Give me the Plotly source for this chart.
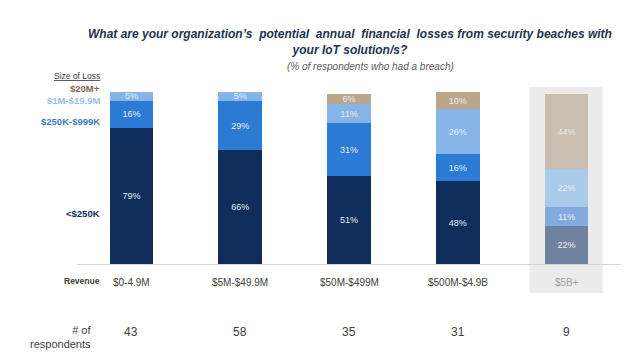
import plotly.graph_objects as go

# ---- data ----
revenue = ["$0-4.9M", "$5M-$49.9M", "$50M-$499M", "$500M-$4.9B", "$5B+"]
respondents = [43, 58, 35, 31, 9]
loss_lt250k = [79, 66, 51, 48, 22]
loss_250k_999k = [16, 29, 31, 16, 11]
loss_1m_19m = [5, 5, 11, 26, 22]
loss_20m_plus = [None, None, 6, 10, 44]
size_labels = ["<$250K", "$250K-$999K", "$1M-$19.9M", "$20M+"]

# ---- layout geometry (pixels) ----
W, H = 640, 361
L, R, T, B = 76.5, 18.5, 92, 97
PW, PH = W - L - R, H - T - B


def px(x):
    return (x - L) / PW


def py(y):
    return (H - B - y) / PH


series = [loss_lt250k, loss_250k_999k, loss_1m_19m, loss_20m_plus]
colors = ["#0F2E5C", "#2B7AD3", "#86B4E6", "#BBA68C"]
faded = ["#6F829E", "#82AADF", "#AACAEA", "#C9BEB0"]
label_colors = ["#0F2E5C", "#3A7CC0", "#9EC0E2", "#7E6A52"]

xs = list(range(len(revenue)))
fig = go.Figure()
for i, (vals, name) in enumerate(zip(series, size_labels)):
    cols = [colors[i]] * (len(xs) - 1) + [faded[i]]
    tcol = ["#E6ECF5"] * (len(xs) - 1) + ["#EDEDED"]
    fig.add_trace(go.Bar(
        x=xs, y=vals, name=name,
        marker=dict(color=cols, line=dict(width=0)),
        text=[f"{v}%" if v is not None else "" for v in vals],
        textposition="inside", insidetextanchor="middle",
        textfont=dict(color=tcol, size=9, family="Liberation Sans"),
        hoverinfo="skip",
    ))

fig.update_layout(
    barmode="stack", bargap=0.6,
    width=W, height=H,
    margin=dict(l=L, r=R, t=T, b=B, pad=0),
    paper_bgcolor="white", plot_bgcolor="rgba(0,0,0,0)",
    showlegend=False,
    uniformtext=dict(minsize=9, mode="show"),
    font=dict(family="Liberation Sans", color="#404040"),
)
fig.update_xaxes(range=[-0.5, len(xs) - 0.5], showticklabels=False, showgrid=False,
                 zeroline=False, showline=True, linecolor="#D3D3D3", linewidth=1,
                 fixedrange=True)
fig.update_yaxes(range=[0, 100], visible=False, fixedrange=True)

# highlight box for last group
fig.add_shape(type="rect", xref="paper", yref="paper",
              x0=px(530), x1=px(603), y0=py(293), y1=py(87),
              fillcolor="#EBEBEB", line=dict(width=0), layer="below")

ann = []
# title
ann.append(dict(xref="paper", yref="paper", x=px(350), y=py(42), xanchor="center", yanchor="middle",
                text="<b><i>What are your organization\u2019s  potential  annual  financial  losses from security beaches with<br>your IoT solution/s?</i></b>",
                font=dict(size=12, color="#1F3350"), showarrow=False, align="center"))
ann.append(dict(xref="paper", yref="paper", x=px(371), y=py(66), xanchor="center", yanchor="middle",
                text="<i>(% of respondents who had a breach)</i>",
                font=dict(size=10, color="#595959"), showarrow=False))
# legend labels
ann.append(dict(xref="paper", yref="paper", x=px(102), y=py(76), xanchor="right", yanchor="middle",
                text="<u>Size of Loss</u>", font=dict(size=8.5, color="#404040"), showarrow=False))
leg_y = [213, 121, 100, 88]
for lab, c, yy in zip(size_labels, label_colors, leg_y):
    ann.append(dict(xref="paper", yref="paper", x=px(102), y=py(yy), xanchor="right", yanchor="middle",
                    text=f"<b>{lab}</b>", font=dict(size=9.5, color=c), showarrow=False))
# revenue row
ann.append(dict(xref="paper", yref="paper", x=px(102), y=py(281), xanchor="right", yanchor="middle",
                text="<b>Revenue</b>", font=dict(size=8.5, color="#404040"), showarrow=False))
for i, r in enumerate(revenue):
    ann.append(dict(xref="x", yref="paper", x=i, y=py(282), xanchor="center", yanchor="middle",
                    text=r, font=dict(size=10, color="#A0A0A0" if i == len(revenue) - 1 else "#404040"),
                    showarrow=False))
# respondents row
ann.append(dict(xref="paper", yref="paper", x=px(93), y=py(337), xanchor="right", yanchor="middle",
                text="# of<br>respondents", font=dict(size=11, color="#404040"), showarrow=False,
                align="right"))
for i, n in enumerate(respondents):
    ann.append(dict(xref="x", yref="paper", x=i, y=py(332), xanchor="center", yanchor="middle",
                    text=str(n), font=dict(size=12, color="#404040"), showarrow=False))

fig.update_layout(annotations=ann)
fig.write_html("out.html", config={"displayModeBar": False},
               post_script="document.body.style.margin='0';")
